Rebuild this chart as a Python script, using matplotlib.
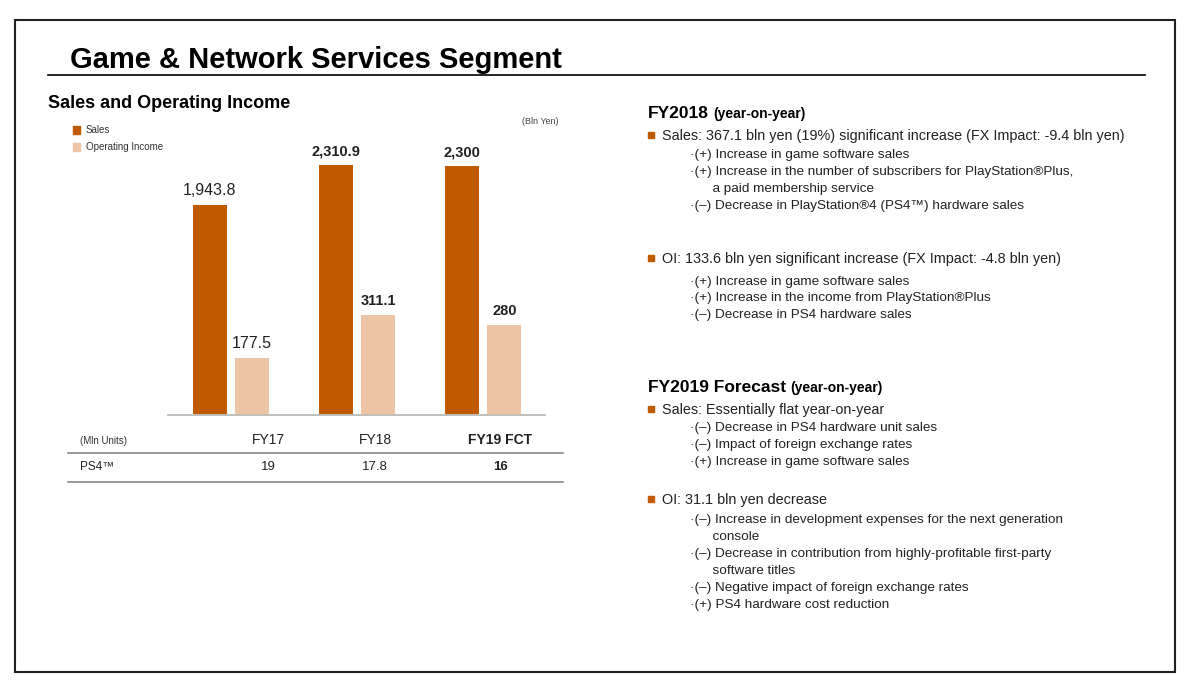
import matplotlib.pyplot as plt
import numpy as np

plt.rcParams['font.family'] = ['Liberation Sans', 'DejaVu Sans']

# chart data
years = ['FY17', 'FY18', 'FY19 FCT']
sales = [1943.8, 2310.9, 2300]
oper_income = [177.5, 311.1, 280]
sales_labels = ['1,943.8', '2,310.9', '2,300']
oi_labels = ['177.5', '311.1', '280']
label_bold = [False, True, True]

# PS4 unit table
unit_years = ['FY17', 'FY18', 'FY19 FCT']
ps4_units = ['19', '17.8', '16']

# right-hand commentary
fy18_sales = ['·(+) Increase in game software sales',
              '·(+) Increase in the number of subscribers for PlayStation®Plus,',
              '      a paid membership service',
              '·(–) Decrease in PlayStation®4 (PS4™) hardware sales']
fy18_oi = ['·(+) Increase in game software sales',
           '·(+) Increase in the income from PlayStation®Plus',
           '·(–) Decrease in PS4 hardware sales']
fy19_sales = ['·(–) Decrease in PS4 hardware unit sales',
              '·(–) Impact of foreign exchange rates',
              '·(+) Increase in game software sales']
fy19_oi = ['·(–) Increase in development expenses for the next generation',
           '      console',
           '·(–) Decrease in contribution from highly-profitable first-party',
           '      software titles',
           '·(–) Negative impact of foreign exchange rates',
           '·(+) PS4 hardware cost reduction']

SALES_COLOR = '#C05A00'
OI_COLOR = '#EDC4A6'
W, H = 1200, 693

fig = plt.figure(figsize=(12, 6.93), dpi=100)


def fx(x):
    return x / W


def fy(y):
    return 1 - y / H


def put(x, y, s, **kw):
    fig.text(fx(x), fy(y), s, va='center', **kw)


# frame and title
fig.patches.append(plt.Rectangle((fx(15), fy(672)), fx(1160), 652 / H, fill=False,
                                 edgecolor='#222222', lw=1.5, transform=fig.transFigure))
put(70, 60, 'Game & Network Services Segment', fontsize=21, fontweight='bold')
fig.add_artist(plt.Line2D([fx(48), fx(1145)], [fy(75), fy(75)], color='black', lw=1.2))

# chart
put(48, 103, 'Sales and Operating Income', fontsize=13, fontweight='bold')
put(522, 121, '(Bln Yen)', fontsize=6.5, color='#444444')
for i, (lab, c) in enumerate([('Sales', SALES_COLOR), ('Operating Income', OI_COLOR)]):
    yy = 130 + i * 17
    fig.patches.append(plt.Rectangle((fx(73), fy(yy + 4)), 7 / W, 8 / H, color=c,
                                     transform=fig.transFigure))
    put(86, yy, lab, fontsize=7, color='#333333')

ax = fig.add_axes([fx(168), fy(415), (545 - 168) / W, (415 - 130) / H])
ax2 = ax.twinx()
x = np.arange(len(years))
d = 0.167
bw = 0.27
ax.bar(x - d, sales, width=bw, color=SALES_COLOR)
ax2.bar(x + d, oper_income, width=bw, color=OI_COLOR)
ax.set_xlim(-0.5, 2.49)
ax.set_ylim(0, 2634)
ax2.set_ylim(0, 888)
for i in range(len(years)):
    w = 'bold' if label_bold[i] else 'normal'
    fs = 10.5 if label_bold[i] else 11.5
    ax.annotate(sales_labels[i], (x[i] - d, sales[i]), xytext=(0, 5), textcoords='offset points',
                ha='center', va='bottom', fontsize=fs, fontweight=w, color='#222222')
    ax2.annotate(oi_labels[i], (x[i] + d, oper_income[i]), xytext=(0, 5), textcoords='offset points',
                 ha='center', va='bottom', fontsize=fs, fontweight=w, color='#222222')
for a in (ax, ax2):
    for s in ['top', 'left', 'right']:
        a.spines[s].set_visible(False)
    a.spines['bottom'].set_color('#BFBFBF')
    a.spines['bottom'].set_linewidth(1.2)
    a.set_xticks([])
    a.set_yticks([])

# unit table
col_x = [268, 375, 500]
put(80, 441, '(Mln Units)', fontsize=7, color='#333333')
put(80, 467, 'PS4™', fontsize=8.5, color='#222222')
for i in range(len(unit_years)):
    w = 'bold' if i == 2 else 'normal'
    put(col_x[i], 440, unit_years[i], fontsize=10, ha='center', fontweight=w, color='#222222')
    put(col_x[i], 467, ps4_units[i], fontsize=9.5, ha='center', fontweight=w, color='#222222')
for yy in (453, 482):
    fig.add_artist(plt.Line2D([fx(68), fx(563)], [fy(yy), fy(yy)], color='#888888', lw=1.2))


# commentary
def heading(y, big, small):
    t = fig.text(fx(648), fy(y), big, fontsize=12.5, fontweight='bold', va='center')
    fig.canvas.draw()
    bb = t.get_window_extent()
    fig.text((bb.x1 + 4) / W, fy(y + 1), small, fontsize=10, fontweight='bold', va='center')


def bullet(y, s):
    fig.patches.append(plt.Rectangle((fx(648), fy(y + 2)), 6 / W, 6 / H, color=SALES_COLOR,
                                     transform=fig.transFigure))
    put(662, y, s, fontsize=10.4, color='#222222')


def subs(y0, lines, step=17):
    for k, s in enumerate(lines):
        put(690, y0 + k * step, s, fontsize=9.7, color='#222222')


heading(113, 'FY2018', '(year-on-year)')
bullet(136, 'Sales: 367.1 bln yen (19%) significant increase (FX Impact: -9.4 bln yen)')
subs(155, fy18_sales)
bullet(259, 'OI: 133.6 bln yen significant increase (FX Impact: -4.8 bln yen)')
subs(282, fy18_oi, 16.5)

heading(387, 'FY2019 Forecast', '(year-on-year)')
bullet(410, 'Sales: Essentially flat year-on-year')
subs(428, fy19_sales)
bullet(500, 'OI: 31.1 bln yen decrease')
subs(520, fy19_oi)

fig.savefig('out.png', dpi=100)
